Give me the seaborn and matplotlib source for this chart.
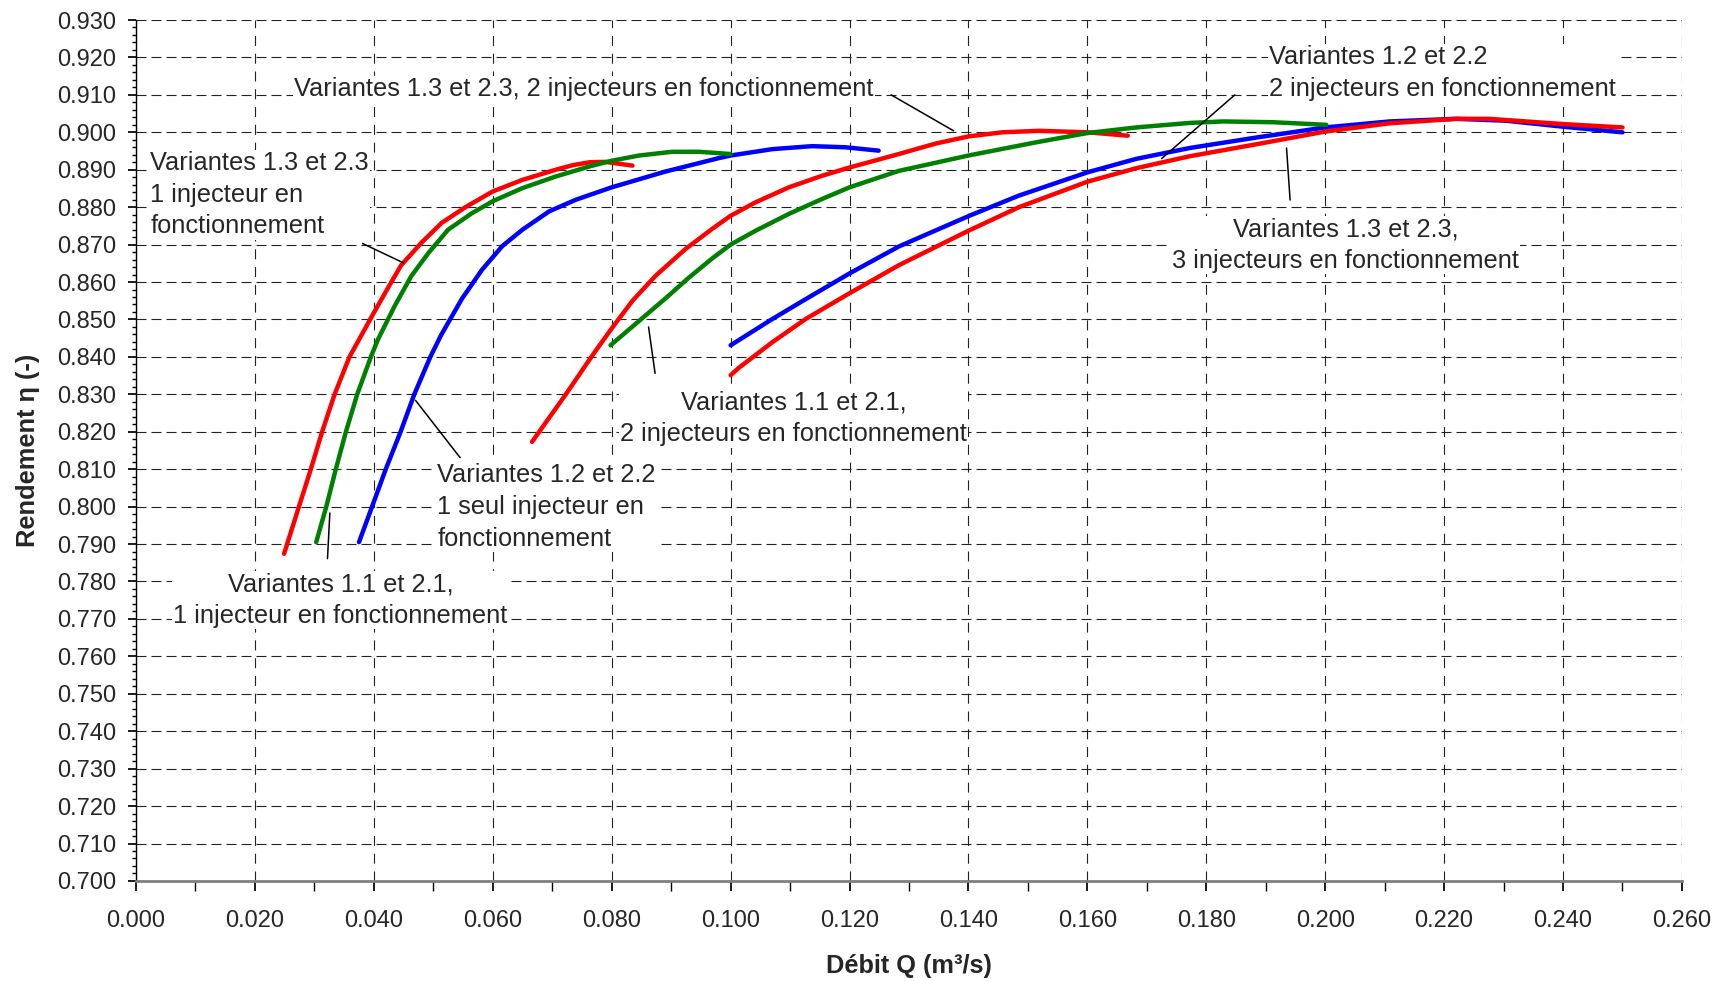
import matplotlib
matplotlib.use('Agg')
import matplotlib.pyplot as plt
from matplotlib.ticker import MultipleLocator, FormatStrFormatter
import pandas as pd
import seaborn as sns

# Variantes 1.3 et 2.3, 1 injecteur (rouge)
q_13_1 = [0.0249, 0.0274, 0.0294, 0.0313, 0.0334, 0.0359, 0.0400, 0.0424, 0.0446,
          0.0480, 0.0514, 0.0554, 0.0600, 0.0650, 0.0706, 0.0734, 0.0763, 0.0790, 0.0835]
eta_13_1 = [0.7874, 0.800, 0.810, 0.820, 0.830, 0.840, 0.8518, 0.8585, 0.8645,
            0.8705, 0.8758, 0.8800, 0.8842, 0.8873, 0.8900, 0.8912, 0.8920, 0.8921, 0.8911]

# Variantes 1.1 et 2.1, 1 injecteur (vert)
q_11_1 = [0.0303, 0.0320, 0.0336, 0.0353, 0.0372, 0.0395, 0.0407, 0.0435, 0.0463, 0.0492,
          0.0525, 0.0565, 0.0600, 0.0650, 0.0706, 0.0763, 0.0800, 0.0846, 0.0902, 0.0947, 0.1000]
eta_11_1 = [0.7905, 0.800, 0.810, 0.820, 0.830, 0.840, 0.8447, 0.8536, 0.8616, 0.8678,
            0.8740, 0.8784, 0.8816, 0.8851, 0.8882, 0.8909, 0.8924, 0.8938, 0.8948, 0.8948, 0.8942]

# Variantes 1.2 et 2.2, 1 injecteur (bleu)
q_12_1 = [0.0375, 0.0397, 0.0420, 0.0445, 0.0468, 0.0495, 0.0513, 0.0548, 0.0582, 0.0616,
          0.0650, 0.0695, 0.0740, 0.0800, 0.0890, 0.0980, 0.1000, 0.1070, 0.1137, 0.1193, 0.1249]
eta_12_1 = [0.7905, 0.800, 0.810, 0.820, 0.830, 0.840, 0.8458, 0.8555, 0.8633, 0.8696,
            0.8740, 0.8789, 0.8820, 0.8853, 0.8895, 0.8931, 0.8938, 0.8955, 0.8963, 0.8960, 0.8951]

# Variantes 1.3 et 2.3, 2 injecteurs (rouge)
q_13_2 = [0.0666, 0.0722, 0.0768, 0.0800, 0.0835, 0.0874, 0.0924, 0.0969, 0.1000, 0.1042,
          0.1098, 0.1154, 0.1200, 0.1283, 0.1345, 0.1400, 0.1457, 0.1519, 0.1600, 0.1668]
eta_13_2 = [0.8173, 0.8298, 0.8405, 0.8476, 0.8550, 0.8617, 0.8688, 0.8742, 0.8777, 0.8813,
            0.8853, 0.8884, 0.8906, 0.8942, 0.8970, 0.8989, 0.9000, 0.9004, 0.9000, 0.8991]

# Variantes 1.1 et 2.1, 2 injecteurs (vert)
q_11_2 = [0.0798, 0.0846, 0.0891, 0.0930, 0.0969, 0.1000, 0.1042, 0.1098, 0.1154, 0.1200,
          0.1283, 0.1400, 0.1513, 0.1600, 0.1682, 0.1772, 0.1828, 0.1912, 0.2002]
eta_11_2 = [0.8431, 0.8496, 0.8557, 0.8612, 0.8663, 0.8700, 0.8737, 0.8782, 0.8822, 0.8853,
            0.8897, 0.8938, 0.8973, 0.8998, 0.9013, 0.9025, 0.9029, 0.9027, 0.9020]

# Variantes 1.2 et 2.2, 2 injecteurs (bleu)
q_12_2 = [0.1000, 0.1070, 0.1126, 0.1200, 0.1283, 0.1400, 0.1485, 0.1600, 0.1682, 0.1772,
          0.1884, 0.2000, 0.2108, 0.2220, 0.2304, 0.2400, 0.2500]
eta_12_2 = [0.8431, 0.8501, 0.8554, 0.8623, 0.8695, 0.8776, 0.8831, 0.8893, 0.8929, 0.8958,
            0.8986, 0.9013, 0.9029, 0.9036, 0.9031, 0.9015, 0.9000]

# Variantes 1.3 et 2.3, 3 injecteurs (rouge)
q_13_3 = [0.1000, 0.1014, 0.1070, 0.1126, 0.1200, 0.1283, 0.1400, 0.1485, 0.1600, 0.1682,
          0.1772, 0.1884, 0.2000, 0.2108, 0.2220, 0.2276, 0.2400, 0.2500]
eta_13_3 = [0.8351, 0.8371, 0.8439, 0.8501, 0.8570, 0.8645, 0.8737, 0.8800, 0.8868, 0.8904,
            0.8936, 0.8968, 0.9002, 0.9024, 0.9036, 0.9036, 0.9022, 0.9013]

RED, GREEN, BLUE = '#ff0000', '#008000', '#0000ff'

# drawing order: blue below, then red, green on top
curves = [
    (q_12_2, eta_12_2, BLUE),
    (q_12_1, eta_12_1, BLUE),
    (q_13_3, eta_13_3, RED),
    (q_13_2, eta_13_2, RED),
    (q_13_1, eta_13_1, RED),
    (q_11_2, eta_11_2, GREEN),
    (q_11_1, eta_11_1, GREEN),
]

# text, text position, alignment, leader line start, leader line end
labels = [
    ('Variantes 1.3 et 2.3, 2 injecteurs en fonctionnement', (0.0266, 0.9115), 'left',
     (0.1270, 0.9100), (0.1375, 0.9004)),
    ('Variantes 1.3 et 2.3\n1 injecteur en\nfonctionnement', (0.0024, 0.8833), 'left',
     (0.0381, 0.8703), (0.0450, 0.8651)),
    ('Variantes 1.1 et 2.1,\n1 injecteur en fonctionnement', (0.0344, 0.7750), 'center',
     (0.0326, 0.7983), (0.0322, 0.7861)),
    ('Variantes 1.2 et 2.2\n1 seul injecteur en\nfonctionnement', (0.0507, 0.7999), 'left',
     (0.0470, 0.8284), (0.0545, 0.8131)),
    ('Variantes 1.1 et 2.1,\n2 injecteurs en fonctionnement', (0.1106, 0.8235), 'center',
     (0.0862, 0.8480), (0.0873, 0.8356)),
    ('Variantes 1.2 et 2.2\n2 injecteurs en fonctionnement', (0.1906, 0.9159), 'left',
     (0.1848, 0.9100), (0.1725, 0.8930)),
    ('Variantes 1.3 et 2.3,\n3 injecteurs en fonctionnement', (0.2034, 0.8699), 'center',
     (0.1935, 0.8958), (0.1941, 0.8819)),
]

sns.set_theme(style='white')
plt.rcParams['font.family'] = ['Liberation Sans', 'DejaVu Sans']

fig = plt.figure(figsize=(17.24, 9.81), dpi=100)
ax = fig.add_axes([0.0789, 0.102, 0.8967, 0.8776])

for q, eta, col in curves:
    df = pd.DataFrame({'q': q, 'eta': eta})
    sns.lineplot(data=df, x='q', y='eta', color=col, lw=3.2, sort=False,
                 estimator=None, ax=ax, solid_capstyle='round',
                 solid_joinstyle='round', zorder=3)

for txt, pos, ha, p0, p1 in labels:
    ax.plot([p0[0], p1[0]], [p0[1], p1[1]], color='black', lw=1.1, zorder=4)
    ax.text(pos[0], pos[1], txt, ha=ha, va='center', multialignment=ha,
            fontsize=18.3, linespacing=1.4, zorder=5,
            bbox=dict(facecolor='white', edgecolor='none', pad=1))

ax.set_xlim(0, 0.26)
ax.set_ylim(0.70, 0.93)
ax.xaxis.set_major_locator(MultipleLocator(0.02))
ax.xaxis.set_minor_locator(MultipleLocator(0.01))
ax.yaxis.set_major_locator(MultipleLocator(0.01))
ax.yaxis.set_minor_locator(MultipleLocator(0.002))
ax.xaxis.set_major_formatter(FormatStrFormatter('%.3f'))
ax.yaxis.set_major_formatter(FormatStrFormatter('%.3f'))

ax.tick_params(axis='both', which='both', direction='out', color='black',
               bottom=True, left=True, labelsize=17)
ax.tick_params(axis='x', which='major', length=7, pad=14)
ax.tick_params(axis='x', which='minor', length=7)
ax.tick_params(axis='y', which='major', length=6, pad=8)
ax.tick_params(axis='y', which='minor', length=3)

ax.yaxis.grid(True, which='major', color='#222222', lw=0.8, linestyle=(0, (9, 4.5)))
ax.xaxis.grid(True, which='major', color='#222222', lw=0.8, linestyle=(0, (9, 7)))
ax.set_axisbelow(True)

for s in ['top', 'right']:
    ax.spines[s].set_visible(False)
ax.spines['left'].set_color('black')
ax.spines['left'].set_linewidth(1)
ax.spines['bottom'].set_color('#7f7f7f')
ax.spines['bottom'].set_linewidth(2)

ax.set_xlabel('Débit Q (m³/s)', fontsize=18.3, fontweight='bold')
ax.set_ylabel('Rendement η (-)', fontsize=18.3, fontweight='bold')
ax.xaxis.set_label_coords(0.5, -0.085)
ax.yaxis.set_label_coords(-0.062, 0.5)

fig.savefig('out.png', dpi=100)
